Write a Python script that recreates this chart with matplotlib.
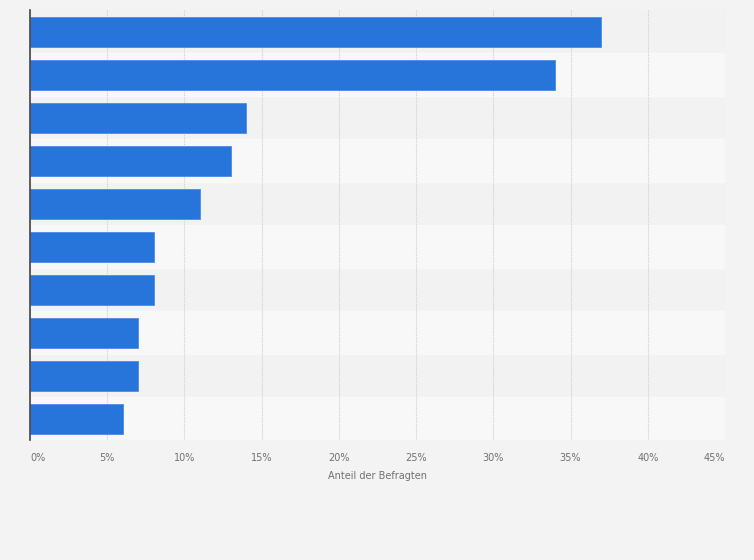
import matplotlib.pyplot as plt
import numpy as np

values = [37, 34, 14, 13, 11, 8, 8, 7, 7, 6]
ticks = [0, 5, 10, 15, 20, 25, 30, 35, 40, 45]
tick_labels = ['{}%'.format(t) for t in ticks]

bg = '#f3f3f3'
fig = plt.figure(figsize=(7.54, 5.6), dpi=100, facecolor=bg)
ax = fig.add_axes([0.0398, 0.214, 0.9217, 0.768])
ax.set_facecolor('#f2f2f2')

n = len(values)
y = np.arange(n)
for i in range(n):
    if i % 2 == 1:
        ax.axhspan(i - 0.5, i + 0.5, color='#f8f8f8', zorder=0)

ax.barh(y, values, height=0.7, color='#2775db', edgecolor='#4a8ce6', linewidth=0.6, zorder=3)
ax.set_ylim(n - 0.5, -0.5)
ax.set_xlim(0, 45)

ax.set_xticks(ticks)
ax.set_xticklabels(tick_labels, fontsize=7, color='#707070')
labels = ax.get_xticklabels()
labels[0].set_horizontalalignment('left')
labels[-1].set_horizontalalignment('right')
ax.set_yticks([])
ax.tick_params(axis='x', length=0, pad=9)
ax.grid(axis='x', color='#cfcfcf', linestyle=(0, (1, 1)), linewidth=0.8, zorder=1)

for s in ['top', 'right', 'bottom']:
    ax.spines[s].set_visible(False)
ax.spines['left'].set_color('#444444')
ax.spines['left'].set_linewidth(1.2)
ax.spines['left'].set_zorder(4)

ax.set_xlabel('Anteil der Befragten', fontsize=7, color='#707070', labelpad=6)

plt.savefig('out.png', dpi=100, facecolor=bg)
